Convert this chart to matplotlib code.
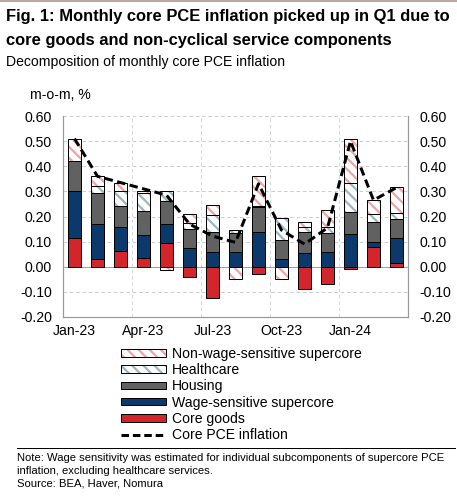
import numpy as np
import matplotlib.pyplot as plt
from matplotlib.patches import Patch
from matplotlib.lines import Line2D
from matplotlib.legend_handler import HandlerTuple

# ── Data (m-o-m %) ───────────────────────────────────────────────────────────
months = ['Jan-23', 'Feb-23', 'Mar-23', 'Apr-23', 'May-23', 'Jun-23', 'Jul-23',
          'Aug-23', 'Sep-23', 'Oct-23', 'Nov-23', 'Dec-23', 'Jan-24', 'Feb-24',
          'Mar-24']
core_goods = [0.115, 0.032, 0.062, 0.033, 0.095, -0.040, -0.125, 0.000,
              -0.030, 0.000, -0.087, -0.070, -0.010, 0.078, 0.016]
wage_sens  = [0.185, 0.138, 0.098, 0.095, 0.077, 0.075, 0.060, 0.060,
              0.137, 0.032, 0.055, 0.060, 0.130, 0.022, 0.099]
housing    = [0.120, 0.125, 0.083, 0.095, 0.091, 0.077, 0.080, 0.075,
              0.099, 0.074, 0.082, 0.075, 0.088, 0.077, 0.077]
healthcare = [0.000, 0.025, 0.057, 0.070, 0.037, 0.023, 0.067, 0.010,
              0.007, 0.088, 0.023, 0.025, 0.117, 0.033, 0.022]
non_wage   = [0.087, 0.040, 0.033, 0.007, -0.013, 0.035, 0.040, -0.048,
              0.117, -0.048, 0.017, 0.065, 0.175, 0.057, 0.103]
core_pce   = [0.510, 0.360, 0.335, 0.310, 0.285, 0.170, 0.122, 0.097,
              0.330, 0.146, 0.090, 0.155, 0.500, 0.265, 0.315]
tick_labels = ['Jan-23', 'Apr-23', 'Jul-23', 'Oct-23', 'Jan-24']

# ── Style ────────────────────────────────────────────────────────────────────
PX = 0.72   # points per pixel at dpi 100
plt.rcParams['font.family'] = ['Liberation Sans', 'DejaVu Sans']
plt.rcParams['hatch.linewidth'] = 2.2 * PX

RED, NAVY, GREY = '#d3262c', '#0b396b', '#616161'
PINK, TEAL = '#f0a3a3', '#98b8bc'
W = 0.58
HATCH = '\\\\\\'

fig = plt.figure(figsize=(4.57, 5.0), dpi=100)
ax = fig.add_axes([63 / 457, 1 - 317 / 500, 345 / 457, 201 / 500])

x = np.arange(len(months))
pos_bot = np.zeros(len(months))
neg_bot = np.zeros(len(months))

series = [
    ('Core goods', core_goods, RED, None),
    ('Wage-sensitive supercore', wage_sens, NAVY, None),
    ('Housing', housing, GREY, None),
    ('Healthcare', healthcare, TEAL, HATCH),
    ('Non-wage-sensitive supercore', non_wage, PINK, HATCH),
]

handles = {}
for name, vals, col, hatch in series:
    v = np.array(vals)
    bot = np.where(v >= 0, pos_bot, neg_bot)
    if hatch:
        ax.bar(x, v, W, bottom=bot, color='white', edgecolor=col, hatch=hatch,
               linewidth=0, zorder=3)
        ax.bar(x, v, W, bottom=bot, fill=False, edgecolor='black',
               linewidth=1.0 * PX, zorder=4)
        handles[name] = (Patch(facecolor='white', edgecolor=col, hatch=hatch,
                               linewidth=0),
                         Patch(fill=False, edgecolor='black', linewidth=1.0 * PX))
    else:
        ax.bar(x, v, W, bottom=bot, color=col, edgecolor='black',
               linewidth=1.0 * PX, zorder=3)
        handles[name] = Patch(facecolor=col, edgecolor='black', linewidth=1.0 * PX)
    pos_bot = pos_bot + np.where(v > 0, v, 0)
    neg_bot = neg_bot + np.where(v < 0, v, 0)

ax.plot(x, core_pce, color='black', lw=3 * PX, ls=(0, (2.8, 1.5)), zorder=5,
        dash_capstyle='butt')
handles['Core PCE inflation'] = Line2D([], [], color='black', lw=3 * PX,
                                       ls=(0, (2.5, 1.3)))

# ── Axes ─────────────────────────────────────────────────────────────────────
ax.set_xlim(-0.5, len(months) - 0.5)
ax.set_ylim(-0.2, 0.6)
yt = np.round(np.arange(-0.2, 0.61, 0.1), 2)
ax.set_yticks(yt)
ax.set_yticklabels([f'{v:.2f}' for v in yt])
ax.set_xticks([months.index(m) for m in tick_labels])
ax.set_xticklabels(tick_labels)
ax.tick_params(axis='y', length=0, labelsize=14 * PX, pad=11 * PX,
               labelright=True, colors='black')
ax.tick_params(axis='x', length=0, labelsize=14 * PX, pad=7 * PX)

for v in yt:
    if v == 0:
        ax.axhline(0, color='#a0a0a0', lw=1 * PX, zorder=2)
    elif v > -0.2:
        ax.axhline(v, color='#c8c8c8', lw=0.9 * PX, ls=(0, (4, 3)), zorder=1)
for xv in [2.5, 5.5, 8.5, 11.5]:
    ax.axvline(xv, color='#d4d4d4', lw=0.9 * PX, ls=(0, (4, 3)), zorder=1)

ax.spines['top'].set_visible(False)
for s in ['left', 'right', 'bottom']:
    ax.spines[s].set_color('#9a9a9a')
    ax.spines[s].set_linewidth(1.2 * PX)

# ── Text ─────────────────────────────────────────────────────────────────────
fig.add_artist(Line2D([0, 1], [1 - 1 / 500] * 2, color='#a78a8a', lw=1.5 * PX))
fig.text(6 / 457, 1 - 17 / 500,
         'Fig. 1: Monthly core PCE inflation picked up in Q1 due to',
         fontsize=16.5 * PX, fontweight='bold', va='center', ha='left')
fig.text(6 / 457, 1 - 41 / 500,
         'core goods and non-cyclical service components',
         fontsize=16.5 * PX, fontweight='bold', va='center', ha='left')
fig.text(6 / 457, 1 - 62 / 500, 'Decomposition of monthly core PCE inflation',
         fontsize=14 * PX, va='center', ha='left')
fig.text(30 / 457, 1 - 95 / 500, 'm-o-m, %', fontsize=14 * PX,
         va='center', ha='left')

order = ['Non-wage-sensitive supercore', 'Healthcare', 'Housing',
         'Wage-sensitive supercore', 'Core goods', 'Core PCE inflation']
fig.legend([handles[k] for k in order], order, loc='upper left',
           bbox_to_anchor=(121 / 457, 1 - 347 / 500), frameon=False,
           fontsize=14 * PX, handlelength=3.2, handleheight=0.45,
           labelspacing=0.16, handletextpad=0.45, borderpad=0, borderaxespad=0,
           handler_map={tuple: HandlerTuple(ndivide=1, pad=0)})

fig.add_artist(Line2D([17 / 457, 455 / 457], [1 - 448 / 500] * 2,
                      color='black', lw=1 * PX))
note = ['Note: Wage sensitivity was estimated for individual subcomponents of supercore PCE',
        'inflation, excluding healthcare services.',
        'Source: BEA, Haver, Nomura']
for i, line in enumerate(note):
    fig.text(17 / 457, 1 - (458 + 13 * i) / 500, line, fontsize=11.2 * PX,
             va='center', ha='left')

fig.savefig('out.png', dpi=100)
